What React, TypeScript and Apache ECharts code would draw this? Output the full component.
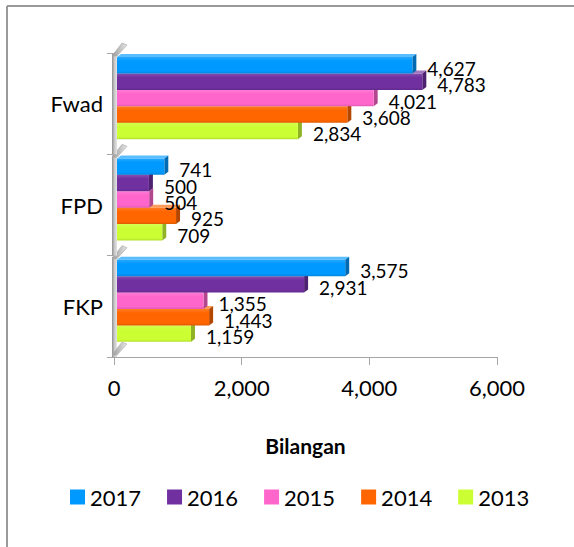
import React, { useEffect, useRef } from 'react';
import * as echarts from 'echarts';

const categories = ['FKP', 'FPD', 'Fwad'];
const years = ['2017', '2016', '2015', '2014', '2013'];
const values2017 = [3575, 741, 4627];
const values2016 = [2931, 500, 4783];
const values2015 = [1355, 504, 4021];
const values2014 = [1443, 925, 3608];
const values2013 = [1159, 709, 2834];
const seriesValues = [values2017, values2016, values2015, values2014, values2013];
const colors = ['#0099FF', '#7030A0', '#FF66CC', '#FF6600', '#CCFF33'];
const xMin = 0;
const xMax = 6000;
const xInterval = 2000;

const FONT = 'Lato, "Open Sans", sans-serif';

function shade(hex: string, f: number): string {
  const n = parseInt(hex.slice(1), 16);
  let r = (n >> 16) & 255, g = (n >> 8) & 255, b = n & 255;
  if (f < 0) {
    r = Math.round(r * (1 + f)); g = Math.round(g * (1 + f)); b = Math.round(b * (1 + f));
  } else {
    r = Math.round(r + (255 - r) * f); g = Math.round(g + (255 - g) * f); b = Math.round(b + (255 - b) * f);
  }
  return `rgb(${r},${g},${b})`;
}

const fmt = (v: number) => v.toLocaleString('en-US');

export default function App() {
  const ref = useRef<HTMLDivElement>(null);
  useEffect(() => {
    if (!ref.current) return;
    const chart = echarts.init(ref.current, null, { renderer: 'svg' });

    const barSeries = seriesValues.map((vals, i) => ({
      type: 'custom',
      name: years[i],
      z: 20 - i,
      itemStyle: { color: colors[i] },
      encode: { x: 0, y: 1 },
      data: vals.map((v, c) => [v, c]),
      renderItem: (params: any, api: any) => {
        const cat = api.value(1);
        const val = api.value(0);
        const base = api.coord([0, cat]);
        const end = api.coord([val, cat]);
        const band = api.size([0, 1])[1];
        const h = band * 0.162;
        const top = base[1] - band * 0.055 - 2.5 * h + i * h;
        const dx = 3, d = 4, up = 3;
        const x0 = base[0] + dx;
        const x1 = end[0] + dx;
        const col = colors[i];
        return {
          type: 'group',
          children: [
            {
              type: 'polygon',
              shape: { points: [[x0, top], [x0 + d, top - up], [x1 + d, top - up], [x1, top]] },
              style: { fill: shade(col, 0.35) },
            },
            {
              type: 'polygon',
              shape: { points: [[x1, top], [x1 + d, top - up], [x1 + d, top + h - up], [x1, top + h]] },
              style: { fill: shade(col, -0.3) },
            },
            {
              type: 'rect',
              shape: { x: x0, y: top, width: Math.max(0, x1 - x0), height: h },
              style: {
                fill: new echarts.graphic.LinearGradient(0, 0, 0, 1, [
                  { offset: 0, color: shade(col, 0.15) },
                  { offset: 0.25, color: col },
                  { offset: 0.85, color: col },
                  { offset: 1, color: shade(col, -0.12) },
                ]),
              },
            },
            {
              type: 'text',
              style: {
                text: fmt(val),
                x: x1 + 15,
                y: top + h / 2 + 3,
                fill: '#000',
                fontSize: 19,
                fontFamily: FONT,
                verticalAlign: 'middle',
                align: 'left',
              },
            },
          ],
        };
      },
    }));

    const wallSeries = {
      type: 'custom',
      name: 'wall',
      z: 1,
      silent: true,
      encode: { x: 0, y: 1 },
      data: categories.map((_, c) => [0, c]),
      renderItem: (params: any, api: any) => {
        const cat = api.value(1);
        const p = api.coord([0, cat]);
        const band = api.size([0, 1])[1];
        const yTop = p[1] - band / 2;
        const yBot = p[1] + band / 2;
        const x0 = p[0];
        const capFill = new echarts.graphic.LinearGradient(0, 0, 1, 0, [
          { offset: 0, color: '#9a9a9a' },
          { offset: 1, color: '#e6e6e6' },
        ]);
        const children: any[] = [
          {
            type: 'rect',
            shape: { x: x0 - 2, y: yTop + 1, width: 5, height: yBot - yTop - 1 },
            style: {
              fill: new echarts.graphic.LinearGradient(0, 0, 1, 0, [
                { offset: 0, color: '#8f8f8f' },
                { offset: 0.5, color: '#c8c8c8' },
                { offset: 1, color: '#e4e4e4' },
              ]),
            },
          },
          {
            type: 'polygon',
            shape: { points: [[x0 - 2, yTop + 3], [x0 + 3, yTop + 3], [x0 + 13, yTop - 8], [x0 + 8, yTop - 10]] },
            style: { fill: capFill, stroke: '#a8a8a8', lineWidth: 0.6 },
          },
        ];
        if (cat === 0) {
          children.push({
            type: 'polygon',
            shape: { points: [[x0 - 2, yBot - 2], [x0 + 3, yBot - 2], [x0 + 13, yBot - 13], [x0 + 8, yBot - 15]] },
            style: { fill: capFill, stroke: '#b0b0b0', lineWidth: 0.6 },
          });
        }
        return { type: 'group', children };
      },
    };

    chart.setOption({
      animation: false,
      color: colors,
      grid: { left: 114, right: 77, top: 53, bottom: 190, containLabel: false },
      xAxis: {
        type: 'value',
        min: xMin,
        max: xMax,
        interval: xInterval,
        name: 'Bilangan',
        nameLocation: 'middle',
        nameGap: 78,
        nameTextStyle: { fontSize: 21, fontWeight: 'bold', color: '#000', fontFamily: FONT },
        axisLine: { show: true, lineStyle: { color: '#a6a6a6', width: 1 } },
        axisTick: { show: true, length: 8, lineStyle: { color: '#a6a6a6' } },
        splitLine: { show: false },
        axisLabel: {
          fontSize: 22,
          color: '#000',
          fontFamily: FONT,
          margin: 19,
          formatter: (v: number) => fmt(v),
        },
      },
      yAxis: {
        type: 'category',
        data: categories,
        axisLine: { show: true, lineStyle: { color: '#a6a6a6', width: 1 } },
        axisTick: { show: true, length: 7, lineStyle: { color: '#a6a6a6' } },
        axisLabel: { fontSize: 22, color: '#000', fontFamily: FONT, margin: 11 },
        splitLine: { show: false },
      },
      legend: {
        data: years.map((y) => ({ name: y, icon: 'rect' })),
        left: 65,
        top: 481,
        itemWidth: 15,
        itemHeight: 15,
        itemGap: 26,
        textStyle: { fontSize: 22, color: '#000', fontFamily: FONT },
      },
      graphic: [
        { type: 'line', shape: { x1: 7, y1: 6, x2: 574, y2: 6 }, style: { stroke: '#9a9a9a', lineWidth: 2 } },
        { type: 'line', shape: { x1: 7, y1: 6, x2: 7, y2: 547 }, style: { stroke: '#9a9a9a', lineWidth: 2 } },
      ],
      series: [wallSeries, ...barSeries],
    });

    return () => chart.dispose();
  }, []);

  return (
    <div
      ref={ref}
      style={{ position: 'fixed', left: 0, top: 0, width: 574, height: 547, background: '#fff' }}
    />
  );
}
